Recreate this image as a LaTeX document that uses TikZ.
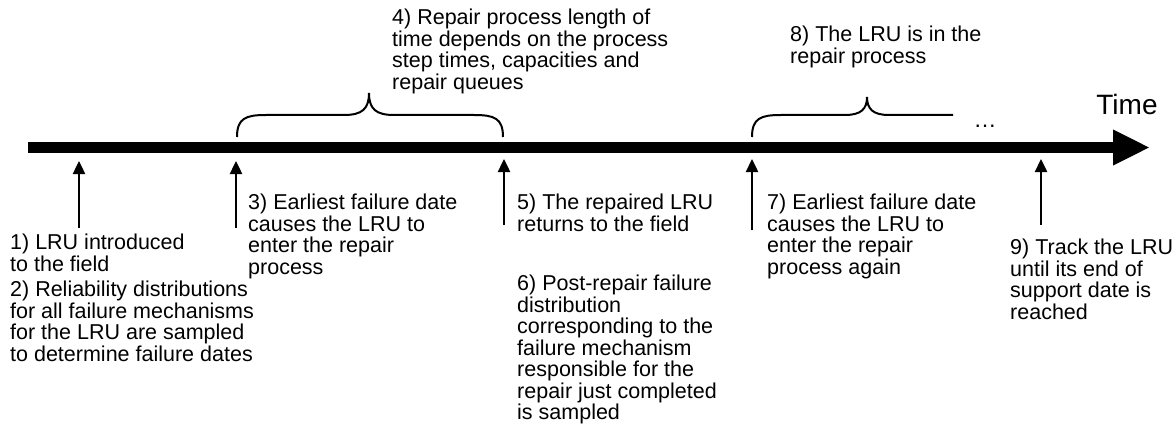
\documentclass[tikz,border=0pt]{standalone}
\usepackage{fontspec}
\setmainfont{Liberation Sans}
\usetikzlibrary{arrows.meta}
\tikzset{
  note/.style={anchor=north west,inner sep=0pt,align=left,font=\fontsize{21.5}{21.5}\selectfont},
  mark arrow/.style={line width=2.4pt,-{Triangle[length=13pt,width=12pt]}},
  brace line/.style={line width=2pt}
}
\begin{document}
\begin{tikzpicture}[x=1pt,y=-1pt]
            \useasboundingbox (0,0) rectangle (1175,425);
            % time axis
            \coordinate (start) at (28,147.5);
            \coordinate (end) at (1150,147.5);
            \draw [line width=11pt,-{Triangle[length=37pt,width=33pt]}] (start) -- (end);
            \node [font=\fontsize{28}{28}\selectfont,inner sep=0pt] (time) at (1127,104) {Time};
            \node [font=\fontsize{23}{23}\selectfont,inner sep=0pt] (dots) at (985,126) {…};
            % events
            \foreach \name/\x/\y/\t in {intro/79/228/161,fail/236/228/161,back/504/225/159,again/752/230/159,track/1041/225/159}{
                \coordinate (\name-foot) at (\x,\y);
                \coordinate (\name-tip) at (\x,\t);
                \draw [mark arrow] (\name-foot) -- (\name-tip);
            }
            % braces
            \coordinate (rep-l) at (237,137);
            \coordinate (rep-t) at (369,93);
            \coordinate (rep-r) at (503,137);
            \draw [brace line] (rep-l) .. controls (237,118) and (246,115) .. (266,115) -- (344,115)
                .. controls (362,115) and (369,109) .. (rep-t)
                .. controls (369,109) and (376,115) .. (394,115) -- (474,115)
                .. controls (494,115) and (503,118) .. (rep-r);
            \coordinate (loop-l) at (752,137);
            \coordinate (loop-t) at (867,97);
            \coordinate (loop-r) at (953,115);
            \draw [brace line] (loop-l) .. controls (752,118) and (761,115) .. (781,115) -- (845,115)
                .. controls (861,115) and (867,109) .. (loop-t)
                .. controls (867,109) and (873,115) .. (889,115) -- (loop-r);
            % texts
            \node [note] (t1) at (10,234) {1) LRU introduced\\to the field};
            \node [note] (t2) at (10,281) {2) Reliability distributions\\for all failure mechanisms\\for the LRU are sampled\\to determine failure dates};
            \node [note] (t3) at (248,194) {3) Earliest failure date\\causes the LRU to\\enter the repair\\process};
            \node [note] (t4) at (392,9) {4) Repair process length of\\time depends on the process\\step times, capacities and\\repair queues};
            \node [note] (t5) at (517,194) {5) The repaired LRU\\returns to the field};
            \node [note] (t6) at (517,275) {6) Post-repair failure\\distribution\\corresponding to the\\failure mechanism\\responsible for the\\repair just completed\\is sampled};
            \node [note] (t7) at (767,194) {7) Earliest failure date\\causes the LRU to\\enter the repair\\process again};
            \node [note] (t8) at (790,26) {8) The LRU is in the\\repair process};
            \node [note] (t9) at (1010,239) {9) Track the LRU\\until its end of\\support date is\\reached};
        \end{tikzpicture}
\end{document}
